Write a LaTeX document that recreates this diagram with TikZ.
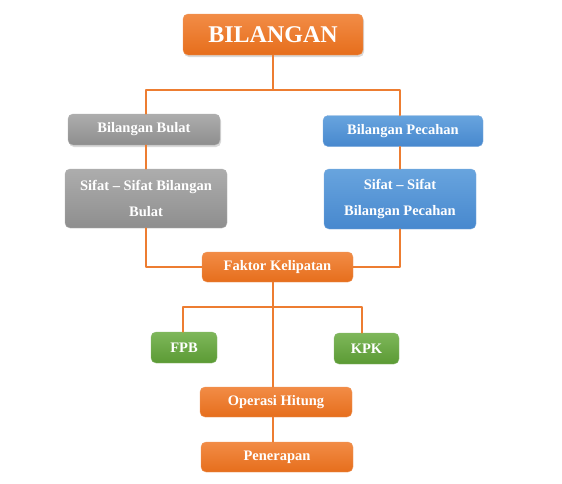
\documentclass[tikz,border=0pt]{standalone}
\usepackage{fontspec}
\setmainfont{Liberation Serif}
\usetikzlibrary{shadows}
\definecolor{garisor}{HTML}{ED7D31}
\definecolor{orA}{HTML}{F28C46}
\definecolor{orB}{HTML}{E66E1C}
\definecolor{abA}{HTML}{ADADAD}
\definecolor{abB}{HTML}{8E8E8E}
\definecolor{biA}{HTML}{68A4DE}
\definecolor{biB}{HTML}{4788CE}
\definecolor{hiA}{HTML}{7EB75A}
\definecolor{hiB}{HTML}{5B9A34}
\begin{document}
\begin{tikzpicture}[x=1pt,y=-1pt,line join=round,line cap=round]
			\tikzset{kotak/.style={rounded corners=5pt,text=white,align=center,inner sep=0pt,
					font=\bfseries\fontsize{14.5}{26}\selectfont},
				oranye/.style={kotak,top color=orA,bottom color=orB,draw=orB!70,thin},
				abu/.style={kotak,top color=abA,bottom color=abB,draw=abB!70,thin},
				biru/.style={kotak,top color=biA,bottom color=biB,draw=biB!70,thin},
				hijau/.style={kotak,top color=hiA,bottom color=hiB,draw=hiB!70,thin},
				bayang/.style={drop shadow={opacity=0.3,shadow xshift=1pt,shadow yshift=-2pt}},
				garis/.style={draw=garisor,line width=1.6pt}}
			\useasboundingbox (0,0) rectangle (562,483);
			% kotak
			\node[oranye,bayang,minimum width=180pt,minimum height=41pt,font=\bfseries\fontsize{24}{28}\selectfont] (bil) at (273,34.5) {BILANGAN};
			\node[abu,bayang,minimum width=152pt,minimum height=31pt] (bulat) at (144,129.5) {Bilangan Bulat};
			\node[biru,minimum width=160pt,minimum height=31pt] (pecahan) at (403,131) {Bilangan Pecahan};
			\node[abu,minimum width=162pt,minimum height=59pt] (sbulat) at (146,198.5) {Sifat -- Sifat Bilangan\\Bulat};
			\node[biru,minimum width=152pt,minimum height=60pt] (spec) at (400,199) {Sifat -- Sifat\\Bilangan Pecahan};
			\node[oranye,minimum width=151pt,minimum height=30pt] (faktor) at (277.5,267) {Faktor Kelipatan};
			\node[hijau,minimum width=66pt,minimum height=31pt] (fpb) at (184,347.5) {FPB};
			\node[hijau,minimum width=65pt,minimum height=31pt] (kpk) at (366.5,348.5) {KPK};
			\node[oranye,minimum width=152pt,minimum height=30pt] (operasi) at (276,402) {Operasi Hitung};
			\node[oranye,minimum width=152pt,minimum height=30pt] (terap) at (277,457) {Penerapan};
			% garis
			\coordinate (c1) at (273,90);
			\coordinate (c2) at (273,307);
			\begin{scope}[on background layer/.try]
				\draw[garis] (bil.south -| c1) -- (c1) -| (bulat.north -| sbulat.north);
				\draw[garis] (c1) -| (pecahan.north -| spec.north);
				\draw[garis] (bulat.south -| sbulat.north) -- (sbulat.north);
				\draw[garis] (pecahan.south -| spec.north) -- (spec.north);
				\draw[garis] (sbulat.south) |- (faktor.west);
				\draw[garis] (spec.south) |- (faktor.east);
				\draw[garis] (faktor.south -| c2) -- (operasi.north -| c2);
				\draw[garis] ([xshift=-1pt]fpb.north) |- (c2) -| ([xshift=-4.5pt]kpk.north);
				\draw[garis] (operasi.south -| c2) -- (terap.north -| c2);
			\end{scope}
	\end{tikzpicture}
\end{document}
